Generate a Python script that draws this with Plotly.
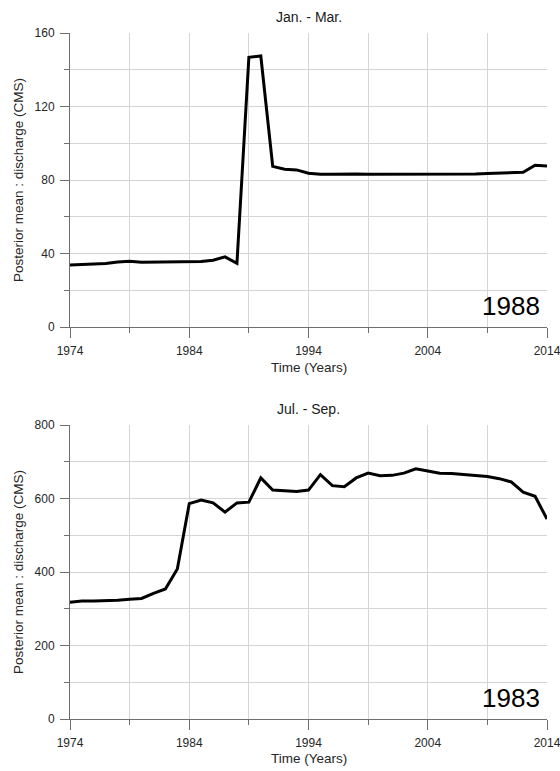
import plotly.graph_objects as go

years = [1974, 1975, 1976, 1977, 1978, 1979, 1980, 1981, 1982, 1983,
         1984, 1985, 1986, 1987, 1988, 1989, 1990, 1991, 1992, 1993,
         1994, 1995, 1996, 1997, 1998, 1999, 2000, 2001, 2002, 2003,
         2004, 2005, 2006, 2007, 2008, 2009, 2010, 2011, 2012, 2013, 2014]

jan_mar = [33.8, 33.9, 34.2, 34.5, 35.4, 35.8, 35.2, 35.2, 35.3, 35.4,
           35.5, 35.6, 36.3, 38.2, 34.7, 146.8, 147.5, 87.4, 85.9, 85.5,
           83.7, 83.1, 83.1, 83.3, 83.3, 83.1, 83.1, 83.1, 83.1, 83.1,
           83.1, 83.1, 83.1, 83.2, 83.3, 83.6, 83.8, 83.6, 84.2, 88.0, 87.6]

jul_sep = [318, 321, 321, 321, 323, 326, 328, 342, 354, 408,
           586, 596, 588, 563, 588, 590, 656, 623, 620, 619,
           623, 665, 635, 632, 656, 669, 662, 663, 669, 681,
           675, 669, 668, 665, 662, 660, 654, 645, 617, 606, 544]

titles = ["Jan. - Mar.", "Jul. - Sep."]
change_years = ["1988", "1983"]
x_title = "Time (Years)"
y_title = "Posterior mean : discharge (CMS)"

FONT = "Liberation Sans, Arial, sans-serif"
GRID = "#d4d4d4"
AXIS = "#6e6e6e"
TXT = "#262626"

fig = go.Figure()
fig.add_trace(go.Scatter(x=years, y=jan_mar, mode="lines",
                         line=dict(color="black", width=3), xaxis="x", yaxis="y",
                         showlegend=False))
fig.add_trace(go.Scatter(x=years, y=jul_sep, mode="lines",
                         line=dict(color="black", width=3), xaxis="x2", yaxis="y2",
                         showlegend=False))

H, W = 771, 560
mt, mb, ml, mr = 33, 52, 70, 13
ph = H - mt - mb


def py(p):
    return (H - mb - p) / ph


def xax(anchor):
    return dict(anchor=anchor, range=[1974, 2014], tick0=1974, dtick=10,
                showgrid=True, gridcolor=GRID, gridwidth=1,
                showline=True, linecolor=AXIS, linewidth=1,
                ticks="outside", ticklen=10, tickcolor=AXIS, tickwidth=1,
                ticklabelstandoff=3, ticklabeloverflow="allow", automargin=False,
                minor=dict(dtick=5, tick0=1974, showgrid=True, gridcolor=GRID,
                           ticks="outside", ticklen=5, tickcolor=AXIS),
                tickfont=dict(family=FONT, size=12, color=TXT),
                zeroline=False, fixedrange=True)


def yax(anchor, rng, dt, domain):
    return dict(anchor=anchor, range=rng, tick0=0, dtick=dt, domain=domain,
                showgrid=True, gridcolor=GRID, gridwidth=1,
                showline=True, linecolor=AXIS, linewidth=1,
                ticks="outside", ticklen=9, tickcolor=AXIS, tickwidth=1,
                ticklabelstandoff=3, automargin=False,
                minor=dict(dtick=dt / 2, tick0=0, showgrid=True, gridcolor=GRID,
                           ticks="outside", ticklen=5, tickcolor=AXIS),
                tickfont=dict(family=FONT, size=12, color=TXT),
                zeroline=False, fixedrange=True)


top_dom = [py(327), 1]
bot_dom = [0, py(425)]

annotations = []
for i, (t, yc_title, yc_xt, yc_mid, xr, yr) in enumerate([
        (titles[0], py(17), py(367), py(180), "x domain", "y domain"),
        (titles[1], py(409), py(758), py(572), "x2 domain", "y2 domain")]):
    annotations.append(dict(text=t, x=0.5, y=yc_title, xref="paper", yref="paper",
                            showarrow=False, xanchor="center", yanchor="middle",
                            font=dict(family=FONT, size=14, color="#1a1a1a")))
    annotations.append(dict(text=x_title, x=0.5, y=yc_xt, xref="paper", yref="paper",
                            showarrow=False, xanchor="center", yanchor="middle",
                            font=dict(family=FONT, size=13.5, color=TXT)))
    annotations.append(dict(text=y_title, x=(18 - ml) / (W - ml - mr), y=yc_mid,
                            xref="paper", yref="paper", textangle=-90,
                            showarrow=False, xanchor="center", yanchor="middle",
                            font=dict(family=FONT, size=13.5, color=TXT)))
    annotations.append(dict(text=change_years[i], x=(542 - ml) / (W - ml - mr), y=0.012,
                            xref=xr, yref=yr, showarrow=False,
                            xanchor="right", yanchor="bottom",
                            font=dict(family=FONT, size=26, color="black")))

fig.update_layout(
    width=W, height=H,
    margin=dict(l=ml, r=mr, t=mt, b=mb, pad=0, autoexpand=False),
    paper_bgcolor="white", plot_bgcolor="white",
    xaxis=xax("y"), yaxis=yax("x", [0, 160], 40, top_dom),
    xaxis2=xax("y2"), yaxis2=yax("x2", [0, 800], 200, bot_dom),
    annotations=annotations,
    showlegend=False,
)

fig.write_html("out.html", config={"displayModeBar": False},
               post_script="document.body.style.margin='0px';document.body.style.padding='0px';document.body.style.overflow='hidden';")
